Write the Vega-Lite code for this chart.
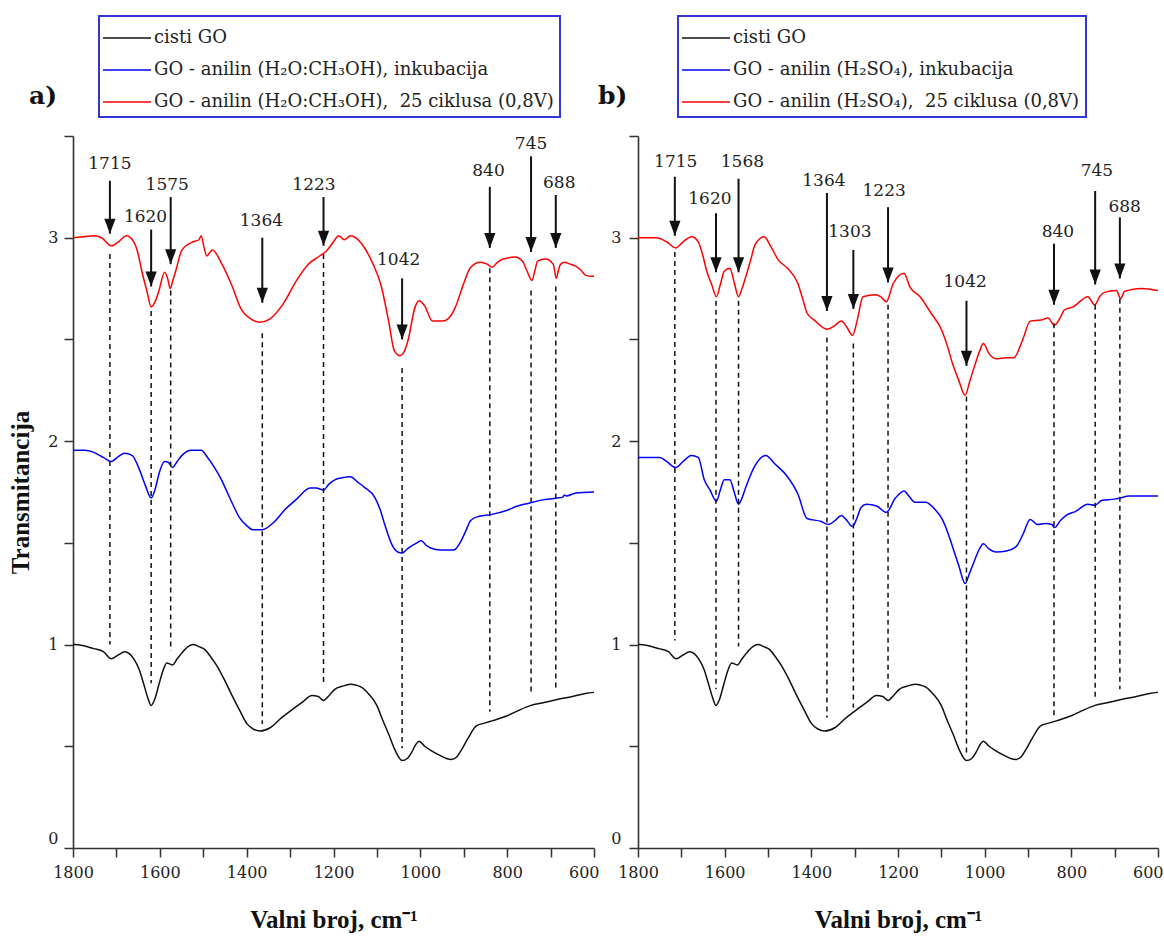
{
  "$schema": "https://vega.github.io/schema/vega-lite/v6.json",
  "background": "white",
  "padding": {"left": 8, "top": 15, "right": 3, "bottom": 2},
  "bounds": "flush",
  "spacing": 44,
  "datasets": {
    "black": [
      {"wn":1800,"v":1.00},{"wn":1796,"v":1.00},{"wn":1752,"v":0.98},{"wn":1730,"v":0.965},{"wn":1712,"v":0.93},{"wn":1695,"v":0.95},{"wn":1681,"v":0.965},{"wn":1660,"v":0.93},{"wn":1648,"v":0.88},{"wn":1637,"v":0.805},{"wn":1628,"v":0.74},{"wn":1620,"v":0.70},{"wn":1612,"v":0.73},{"wn":1602,"v":0.805},{"wn":1593,"v":0.87},{"wn":1584,"v":0.91},{"wn":1571,"v":0.90},{"wn":1560,"v":0.93},{"wn":1549,"v":0.96},{"wn":1535,"v":0.99},{"wn":1523,"v":1.00},{"wn":1510,"v":0.99},{"wn":1496,"v":0.975},{"wn":1483,"v":0.94},{"wn":1470,"v":0.90},{"wn":1452,"v":0.83},{"wn":1435,"v":0.755},{"wn":1417,"v":0.68},{"wn":1399,"v":0.61},{"wn":1385,"v":0.585},{"wn":1369,"v":0.575},{"wn":1347,"v":0.59},{"wn":1320,"v":0.64},{"wn":1289,"v":0.69},{"wn":1270,"v":0.72},{"wn":1250,"v":0.75},{"wn":1235,"v":0.745},{"wn":1223,"v":0.725},{"wn":1210,"v":0.75},{"wn":1197,"v":0.78},{"wn":1180,"v":0.795},{"wn":1161,"v":0.805},{"wn":1147,"v":0.80},{"wn":1135,"v":0.79},{"wn":1118,"v":0.755},{"wn":1100,"v":0.70},{"wn":1087,"v":0.63},{"wn":1073,"v":0.56},{"wn":1058,"v":0.48},{"wn":1042,"v":0.43},{"wn":1030,"v":0.44},{"wn":1020,"v":0.47},{"wn":1010,"v":0.51},{"wn":1003,"v":0.525},{"wn":990,"v":0.50},{"wn":976,"v":0.48},{"wn":955,"v":0.455},{"wn":940,"v":0.44},{"wn":928,"v":0.435},{"wn":915,"v":0.45},{"wn":906,"v":0.48},{"wn":890,"v":0.54},{"wn":871,"v":0.60},{"wn":850,"v":0.615},{"wn":835,"v":0.625},{"wn":800,"v":0.65},{"wn":775,"v":0.675},{"wn":747,"v":0.70},{"wn":715,"v":0.715},{"wn":685,"v":0.73},{"wn":650,"v":0.745},{"wn":620,"v":0.76},{"wn":600,"v":0.765}
    ],
    "leftBlue": [
      {"wn":1800,"v":1.955},{"wn":1774,"v":1.955},{"wn":1752,"v":1.945},{"wn":1730,"v":1.92},{"wn":1712,"v":1.90},{"wn":1695,"v":1.925},{"wn":1681,"v":1.94},{"wn":1664,"v":1.93},{"wn":1646,"v":1.855},{"wn":1633,"v":1.78},{"wn":1620,"v":1.72},{"wn":1610,"v":1.77},{"wn":1602,"v":1.84},{"wn":1589,"v":1.90},{"wn":1580,"v":1.895},{"wn":1571,"v":1.87},{"wn":1560,"v":1.90},{"wn":1549,"v":1.93},{"wn":1527,"v":1.955},{"wn":1505,"v":1.955},{"wn":1490,"v":1.92},{"wn":1474,"v":1.87},{"wn":1458,"v":1.81},{"wn":1443,"v":1.74},{"wn":1430,"v":1.68},{"wn":1417,"v":1.625},{"wn":1400,"v":1.585},{"wn":1386,"v":1.565},{"wn":1364,"v":1.565},{"wn":1338,"v":1.60},{"wn":1311,"v":1.665},{"wn":1285,"v":1.715},{"wn":1254,"v":1.77},{"wn":1240,"v":1.77},{"wn":1223,"v":1.76},{"wn":1210,"v":1.79},{"wn":1197,"v":1.81},{"wn":1180,"v":1.82},{"wn":1161,"v":1.825},{"wn":1145,"v":1.80},{"wn":1130,"v":1.775},{"wn":1104,"v":1.72},{"wn":1092,"v":1.66},{"wn":1082,"v":1.59},{"wn":1064,"v":1.485},{"wn":1052,"v":1.455},{"wn":1042,"v":1.45},{"wn":1030,"v":1.47},{"wn":1020,"v":1.485},{"wn":1008,"v":1.50},{"wn":998,"v":1.51},{"wn":985,"v":1.485},{"wn":976,"v":1.475},{"wn":954,"v":1.465},{"wn":923,"v":1.465},{"wn":906,"v":1.51},{"wn":895,"v":1.56},{"wn":884,"v":1.61},{"wn":866,"v":1.63},{"wn":835,"v":1.64},{"wn":800,"v":1.66},{"wn":778,"v":1.68},{"wn":750,"v":1.695},{"wn":721,"v":1.71},{"wn":685,"v":1.72},{"wn":672,"v":1.725},{"wn":668,"v":1.735},{"wn":664,"v":1.73},{"wn":642,"v":1.745},{"wn":600,"v":1.75}
    ],
    "leftRed": [
      {"wn":1800,"v":3.00},{"wn":1775,"v":3.005},{"wn":1752,"v":3.01},{"wn":1734,"v":3.00},{"wn":1712,"v":2.96},{"wn":1695,"v":2.98},{"wn":1677,"v":3.01},{"wn":1660,"v":2.98},{"wn":1650,"v":2.92},{"wn":1642,"v":2.84},{"wn":1630,"v":2.74},{"wn":1620,"v":2.66},{"wn":1610,"v":2.69},{"wn":1602,"v":2.74},{"wn":1589,"v":2.83},{"wn":1582,"v":2.80},{"wn":1576,"v":2.75},{"wn":1570,"v":2.79},{"wn":1563,"v":2.84},{"wn":1549,"v":2.94},{"wn":1523,"v":2.98},{"wn":1510,"v":2.99},{"wn":1505,"v":3.01},{"wn":1498,"v":2.95},{"wn":1492,"v":2.91},{"wn":1479,"v":2.94},{"wn":1457,"v":2.87},{"wn":1435,"v":2.77},{"wn":1413,"v":2.65},{"wn":1390,"v":2.60},{"wn":1369,"v":2.585},{"wn":1347,"v":2.60},{"wn":1316,"v":2.675},{"wn":1285,"v":2.79},{"wn":1258,"v":2.87},{"wn":1232,"v":2.91},{"wn":1214,"v":2.94},{"wn":1200,"v":2.98},{"wn":1188,"v":3.01},{"wn":1175,"v":2.99},{"wn":1161,"v":3.01},{"wn":1135,"v":2.97},{"wn":1109,"v":2.87},{"wn":1091,"v":2.77},{"wn":1073,"v":2.59},{"wn":1060,"v":2.445},{"wn":1047,"v":2.42},{"wn":1040,"v":2.43},{"wn":1029,"v":2.49},{"wn":1012,"v":2.66},{"wn":1003,"v":2.69},{"wn":990,"v":2.665},{"wn":972,"v":2.59},{"wn":950,"v":2.59},{"wn":937,"v":2.60},{"wn":919,"v":2.66},{"wn":901,"v":2.77},{"wn":884,"v":2.855},{"wn":862,"v":2.88},{"wn":846,"v":2.87},{"wn":835,"v":2.855},{"wn":822,"v":2.88},{"wn":809,"v":2.895},{"wn":782,"v":2.905},{"wn":765,"v":2.885},{"wn":755,"v":2.84},{"wn":743,"v":2.79},{"wn":736,"v":2.84},{"wn":730,"v":2.885},{"wn":712,"v":2.895},{"wn":694,"v":2.87},{"wn":687,"v":2.80},{"wn":682,"v":2.84},{"wn":677,"v":2.87},{"wn":668,"v":2.88},{"wn":655,"v":2.87},{"wn":642,"v":2.86},{"wn":630,"v":2.84},{"wn":619,"v":2.815},{"wn":605,"v":2.81},{"wn":600,"v":2.81}
    ],
    "rightBlue": [
      {"wn":1800,"v":1.92},{"wn":1750,"v":1.92},{"wn":1734,"v":1.90},{"wn":1713,"v":1.87},{"wn":1696,"v":1.90},{"wn":1677,"v":1.93},{"wn":1661,"v":1.92},{"wn":1647,"v":1.81},{"wn":1634,"v":1.76},{"wn":1619,"v":1.705},{"wn":1610,"v":1.76},{"wn":1601,"v":1.81},{"wn":1588,"v":1.81},{"wn":1578,"v":1.75},{"wn":1568,"v":1.69},{"wn":1560,"v":1.72},{"wn":1551,"v":1.775},{"wn":1530,"v":1.88},{"wn":1505,"v":1.93},{"wn":1485,"v":1.89},{"wn":1455,"v":1.825},{"wn":1431,"v":1.74},{"wn":1410,"v":1.62},{"wn":1377,"v":1.605},{"wn":1361,"v":1.59},{"wn":1345,"v":1.61},{"wn":1331,"v":1.635},{"wn":1318,"v":1.61},{"wn":1305,"v":1.58},{"wn":1295,"v":1.62},{"wn":1285,"v":1.675},{"wn":1273,"v":1.69},{"wn":1248,"v":1.68},{"wn":1227,"v":1.65},{"wn":1206,"v":1.72},{"wn":1186,"v":1.755},{"wn":1175,"v":1.73},{"wn":1161,"v":1.70},{"wn":1136,"v":1.70},{"wn":1115,"v":1.665},{"wn":1099,"v":1.62},{"wn":1085,"v":1.55},{"wn":1074,"v":1.48},{"wn":1060,"v":1.39},{"wn":1045,"v":1.30},{"wn":1035,"v":1.35},{"wn":1024,"v":1.41},{"wn":1012,"v":1.47},{"wn":1003,"v":1.495},{"wn":990,"v":1.47},{"wn":974,"v":1.455},{"wn":950,"v":1.46},{"wn":928,"v":1.48},{"wn":912,"v":1.54},{"wn":895,"v":1.615},{"wn":878,"v":1.59},{"wn":860,"v":1.595},{"wn":845,"v":1.59},{"wn":839,"v":1.575},{"wn":825,"v":1.61},{"wn":812,"v":1.635},{"wn":790,"v":1.655},{"wn":762,"v":1.69},{"wn":746,"v":1.685},{"wn":729,"v":1.71},{"wn":700,"v":1.715},{"wn":688,"v":1.72},{"wn":667,"v":1.73},{"wn":640,"v":1.73},{"wn":600,"v":1.73}
    ],
    "rightRed": [
      {"wn":1800,"v":3.00},{"wn":1758,"v":3.00},{"wn":1734,"v":2.98},{"wn":1713,"v":2.95},{"wn":1696,"v":2.98},{"wn":1676,"v":3.005},{"wn":1661,"v":2.98},{"wn":1650,"v":2.91},{"wn":1642,"v":2.84},{"wn":1630,"v":2.77},{"wn":1619,"v":2.71},{"wn":1610,"v":2.77},{"wn":1601,"v":2.835},{"wn":1588,"v":2.85},{"wn":1578,"v":2.78},{"wn":1568,"v":2.71},{"wn":1560,"v":2.75},{"wn":1551,"v":2.81},{"wn":1540,"v":2.89},{"wn":1530,"v":2.965},{"wn":1509,"v":3.005},{"wn":1493,"v":2.955},{"wn":1476,"v":2.89},{"wn":1455,"v":2.85},{"wn":1431,"v":2.775},{"wn":1420,"v":2.70},{"wn":1410,"v":2.63},{"wn":1393,"v":2.595},{"wn":1364,"v":2.55},{"wn":1348,"v":2.565},{"wn":1331,"v":2.59},{"wn":1318,"v":2.56},{"wn":1305,"v":2.52},{"wn":1294,"v":2.595},{"wn":1281,"v":2.71},{"wn":1252,"v":2.72},{"wn":1240,"v":2.71},{"wn":1227,"v":2.685},{"wn":1211,"v":2.775},{"wn":1186,"v":2.825},{"wn":1173,"v":2.76},{"wn":1149,"v":2.71},{"wn":1124,"v":2.63},{"wn":1099,"v":2.545},{"wn":1085,"v":2.46},{"wn":1074,"v":2.38},{"wn":1060,"v":2.30},{"wn":1045,"v":2.225},{"wn":1035,"v":2.29},{"wn":1024,"v":2.365},{"wn":1012,"v":2.44},{"wn":1003,"v":2.48},{"wn":990,"v":2.43},{"wn":974,"v":2.405},{"wn":950,"v":2.41},{"wn":933,"v":2.41},{"wn":912,"v":2.50},{"wn":895,"v":2.59},{"wn":870,"v":2.595},{"wn":854,"v":2.605},{"wn":839,"v":2.57},{"wn":825,"v":2.61},{"wn":816,"v":2.645},{"wn":796,"v":2.66},{"wn":762,"v":2.71},{"wn":746,"v":2.67},{"wn":735,"v":2.71},{"wn":725,"v":2.73},{"wn":696,"v":2.74},{"wn":686,"v":2.70},{"wn":678,"v":2.735},{"wn":671,"v":2.74},{"wn":638,"v":2.75},{"wn":600,"v":2.74}
    ],
    "leftAnn": [
      {"wn":1715,"tx":1715,"ty":3.36,"at":3.28,"tip":3.02,"dt":2.92,"db":1.00},
      {"wn":1620,"tx":1633,"ty":3.10,"at":3.04,"tip":2.76,"dt":2.64,"db":0.81},
      {"wn":1575,"tx":1583,"ty":3.26,"at":3.20,"tip":2.87,"dt":2.74,"db":0.97},
      {"wn":1364,"tx":1366,"ty":3.08,"at":3.00,"tip":2.68,"dt":2.53,"db":0.61},
      {"wn":1223,"tx":1245,"ty":3.26,"at":3.20,"tip":2.96,"dt":2.92,"db":0.81},
      {"wn":1042,"tx":1050,"ty":2.89,"at":2.80,"tip":2.50,"dt":2.36,"db":0.49},
      {"wn":840,"tx":843,"ty":3.33,"at":3.25,"tip":2.95,"dt":2.85,"db":0.67},
      {"wn":745,"tx":745,"ty":3.46,"at":3.40,"tip":2.93,"dt":2.74,"db":0.75},
      {"wn":688,"tx":680,"ty":3.27,"at":3.21,"tip":2.95,"dt":2.76,"db":0.77}
    ],
    "rightAnn": [
      {"wn":1715,"tx":1713,"ty":3.37,"at":3.30,"tip":3.01,"dt":2.93,"db":1.02},
      {"wn":1620,"tx":1634,"ty":3.19,"at":3.12,"tip":2.83,"dt":2.69,"db":0.78},
      {"wn":1568,"tx":1559,"ty":3.37,"at":3.29,"tip":2.83,"dt":2.69,"db":0.99},
      {"wn":1364,"tx":1371,"ty":3.28,"at":3.22,"tip":2.64,"dt":2.51,"db":0.64},
      {"wn":1303,"tx":1311,"ty":3.03,"at":2.94,"tip":2.65,"dt":2.48,"db":0.69},
      {"wn":1223,"tx":1232,"ty":3.23,"at":3.15,"tip":2.78,"dt":2.67,"db":0.78},
      {"wn":1042,"tx":1045,"ty":2.78,"at":2.69,"tip":2.37,"dt":2.22,"db":0.46},
      {"wn":840,"tx":831,"ty":3.03,"at":2.97,"tip":2.67,"dt":2.58,"db":0.65},
      {"wn":745,"tx":741,"ty":3.33,"at":3.23,"tip":2.77,"dt":2.67,"db":0.74},
      {"wn":688,"tx":677,"ty":3.15,"at":3.10,"tip":2.80,"dt":2.70,"db":0.78}
    ]
  },
  "hconcat": [
    {
      "width": 521,
      "height": 712,
      "title": {"text": "a)", "anchor": "start", "frame": "group", "dx": -44, "offset": -94, "font": "DejaVu Serif", "fontSize": 25, "fontWeight": "bold", "color": "#111"},
      "layer": [
        {
          "data": {"name": "black"},
          "mark": {"type": "line", "strokeWidth": 1.5, "interpolate": "monotone"},
          "encoding": {
            "x": {"field": "wn", "type": "quantitative", "title": "Valni broj, cm⁻¹", "scale": {"domain": [600, 1800], "reverse": true, "nice": false, "zero": false},
              "axis": {"values": [1800,1700,1600,1500,1400,1300,1200,1100,1000,900,800,700,600], "format": "d", "labelExpr": "datum.value % 200 === 0 ? datum.label : ''", "tickSize": 9, "encode": {"ticks": {"update": {"y2": {"signal": "datum.value % 200 === 0 ? 9 : 5"}}}}, "labelAlign": {"condition": {"test": "datum.value === 600", "value": "right"}, "value": "center"}, "labelOffset": {"condition": {"test": "datum.value === 600", "value": 5}, "value": 0}, "labelFlush": false, "labelOverlap": false, "labelPadding": 7, "titlePadding": 27}},
            "y": {"field": "v", "type": "quantitative", "title": "Transmitancija", "scale": {"domain": [0, 3.5], "nice": false, "zero": false},
              "axis": {"values": [0,0.5,1,1.5,2,2.5,3,3.5], "labelExpr": "datum.value % 1 === 0 ? '' + datum.value : ''", "tickSize": 9, "encode": {"ticks": {"update": {"x2": {"signal": "datum.value % 1 === 0 ? -9 : -5"}}}}, "labelOffset": {"condition": {"test": "datum.value === 0", "value": -10}, "value": 0}, "labelFlush": false, "labelOverlap": false, "labelPadding": 6, "titlePadding": 14}},
            "color": {"datum": "cisti GO", "type": "nominal",
              "scale": {"domain": ["cisti GO", "GO - anilin (H₂O:CH₃OH), inkubacija", "GO - anilin (H₂O:CH₃OH), \u00a025 ciklusa (0,8V)"], "range": ["#111111", "#0000ff", "#ff0000"]},
              "legend": {"legendX": 26, "legendY": -120}}
          }
        },
        {
          "data": {"name": "leftBlue"},
          "mark": {"type": "line", "strokeWidth": 1.5, "interpolate": "monotone"},
          "encoding": {
            "x": {"field": "wn", "type": "quantitative", "title": "Valni broj, cm⁻¹", "scale": {"domain": [600, 1800], "reverse": true, "nice": false, "zero": false}},
            "y": {"field": "v", "type": "quantitative", "title": "Transmitancija", "scale": {"domain": [0, 3.5], "nice": false, "zero": false}},
            "color": {"datum": "GO - anilin (H₂O:CH₃OH), inkubacija", "type": "nominal"}
          }
        },
        {
          "data": {"name": "leftRed"},
          "mark": {"type": "line", "strokeWidth": 1.5, "interpolate": "monotone"},
          "encoding": {
            "x": {"field": "wn", "type": "quantitative", "title": "Valni broj, cm⁻¹", "scale": {"domain": [600, 1800], "reverse": true, "nice": false, "zero": false}},
            "y": {"field": "v", "type": "quantitative", "title": "Transmitancija", "scale": {"domain": [0, 3.5], "nice": false, "zero": false}},
            "color": {"datum": "GO - anilin (H₂O:CH₃OH), \u00a025 ciklusa (0,8V)", "type": "nominal"}
          }
        },
        {
          "data": {"name": "leftAnn"},
          "mark": {"type": "rule", "strokeDash": [5, 4], "strokeWidth": 1.5, "color": "#111"},
          "encoding": {
            "x": {"field": "wn", "type": "quantitative", "title": "Valni broj, cm⁻¹", "scale": {"domain": [600, 1800], "reverse": true, "nice": false, "zero": false}},
            "y": {"field": "dt", "type": "quantitative", "title": "Transmitancija", "scale": {"domain": [0, 3.5], "nice": false, "zero": false}},
            "y2": {"field": "db"}
          }
        },
        {
          "data": {"name": "leftAnn"},
          "mark": {"type": "rule", "strokeWidth": 2, "color": "#111"},
          "encoding": {
            "x": {"field": "wn", "type": "quantitative", "title": "Valni broj, cm⁻¹", "scale": {"domain": [600, 1800], "reverse": true, "nice": false, "zero": false}},
            "y": {"field": "at", "type": "quantitative", "title": "Transmitancija", "scale": {"domain": [0, 3.5], "nice": false, "zero": false}},
            "y2": {"field": "tip"}
          }
        },
        {
          "data": {"name": "leftAnn"},
          "mark": {"type": "point", "shape": "M-0.75,-2L0.75,-2L0,0Z", "filled": true, "size": 225, "color": "#111", "opacity": 1},
          "encoding": {
            "x": {"field": "wn", "type": "quantitative", "title": "Valni broj, cm⁻¹", "scale": {"domain": [600, 1800], "reverse": true, "nice": false, "zero": false}},
            "y": {"field": "tip", "type": "quantitative", "title": "Transmitancija", "scale": {"domain": [0, 3.5], "nice": false, "zero": false}}
          }
        },
        {
          "data": {"name": "leftAnn"},
          "mark": {"type": "text", "font": "DejaVu Serif", "fontSize": 17, "color": "#222", "baseline": "middle"},
          "encoding": {
            "x": {"field": "tx", "type": "quantitative", "title": "Valni broj, cm⁻¹", "scale": {"domain": [600, 1800], "reverse": true, "nice": false, "zero": false}},
            "y": {"field": "ty", "type": "quantitative", "title": "Transmitancija", "scale": {"domain": [0, 3.5], "nice": false, "zero": false}},
            "text": {"field": "wn", "type": "quantitative", "format": "d"}
          }
        }
      ]
    },
    {
      "width": 520,
      "height": 712,
      "title": {"text": "b)", "anchor": "start", "frame": "group", "dx": -40, "offset": -94, "font": "DejaVu Serif", "fontSize": 25, "fontWeight": "bold", "color": "#111"},
      "layer": [
        {
          "data": {"name": "black"},
          "mark": {"type": "line", "strokeWidth": 1.5, "interpolate": "monotone"},
          "encoding": {
            "x": {"field": "wn", "type": "quantitative", "title": "Valni broj, cm⁻¹", "scale": {"domain": [600, 1800], "reverse": true, "nice": false, "zero": false},
              "axis": {"values": [1800,1700,1600,1500,1400,1300,1200,1100,1000,900,800,700,600], "format": "d", "labelExpr": "datum.value % 200 === 0 ? datum.label : ''", "tickSize": 9, "encode": {"ticks": {"update": {"y2": {"signal": "datum.value % 200 === 0 ? 9 : 5"}}}}, "labelAlign": {"condition": {"test": "datum.value === 600", "value": "right"}, "value": "center"}, "labelOffset": {"condition": {"test": "datum.value === 600", "value": 5}, "value": 0}, "labelFlush": false, "labelOverlap": false, "labelPadding": 7, "titlePadding": 27}},
            "y": {"field": "v", "type": "quantitative", "title": null, "scale": {"domain": [0, 3.5], "nice": false, "zero": false},
              "axis": {"values": [0,0.5,1,1.5,2,2.5,3,3.5], "labelExpr": "datum.value % 1 === 0 ? '' + datum.value : ''", "tickSize": 9, "encode": {"ticks": {"update": {"x2": {"signal": "datum.value % 1 === 0 ? -9 : -5"}}}}, "labelOffset": {"condition": {"test": "datum.value === 0", "value": -10}, "value": 0}, "labelFlush": false, "labelOverlap": false, "labelPadding": 8}},
            "color": {"datum": "cisti GO", "type": "nominal",
              "scale": {"domain": ["cisti GO", "GO - anilin (H₂SO₄), inkubacija", "GO - anilin (H₂SO₄), \u00a025 ciklusa (0,8V)"], "range": ["#111111", "#0000ff", "#ff0000"]},
              "legend": {"legendX": 40, "legendY": -120}}
          }
        },
        {
          "data": {"name": "rightBlue"},
          "mark": {"type": "line", "strokeWidth": 1.5, "interpolate": "monotone"},
          "encoding": {
            "x": {"field": "wn", "type": "quantitative", "title": "Valni broj, cm⁻¹", "scale": {"domain": [600, 1800], "reverse": true, "nice": false, "zero": false}},
            "y": {"field": "v", "type": "quantitative", "title": null, "scale": {"domain": [0, 3.5], "nice": false, "zero": false}},
            "color": {"datum": "GO - anilin (H₂SO₄), inkubacija", "type": "nominal"}
          }
        },
        {
          "data": {"name": "rightRed"},
          "mark": {"type": "line", "strokeWidth": 1.5, "interpolate": "monotone"},
          "encoding": {
            "x": {"field": "wn", "type": "quantitative", "title": "Valni broj, cm⁻¹", "scale": {"domain": [600, 1800], "reverse": true, "nice": false, "zero": false}},
            "y": {"field": "v", "type": "quantitative", "title": null, "scale": {"domain": [0, 3.5], "nice": false, "zero": false}},
            "color": {"datum": "GO - anilin (H₂SO₄), \u00a025 ciklusa (0,8V)", "type": "nominal"}
          }
        },
        {
          "data": {"name": "rightAnn"},
          "mark": {"type": "rule", "strokeDash": [5, 4], "strokeWidth": 1.5, "color": "#111"},
          "encoding": {
            "x": {"field": "wn", "type": "quantitative", "title": "Valni broj, cm⁻¹", "scale": {"domain": [600, 1800], "reverse": true, "nice": false, "zero": false}},
            "y": {"field": "dt", "type": "quantitative", "title": null, "scale": {"domain": [0, 3.5], "nice": false, "zero": false}},
            "y2": {"field": "db"}
          }
        },
        {
          "data": {"name": "rightAnn"},
          "mark": {"type": "rule", "strokeWidth": 2, "color": "#111"},
          "encoding": {
            "x": {"field": "wn", "type": "quantitative", "title": "Valni broj, cm⁻¹", "scale": {"domain": [600, 1800], "reverse": true, "nice": false, "zero": false}},
            "y": {"field": "at", "type": "quantitative", "title": null, "scale": {"domain": [0, 3.5], "nice": false, "zero": false}},
            "y2": {"field": "tip"}
          }
        },
        {
          "data": {"name": "rightAnn"},
          "mark": {"type": "point", "shape": "M-0.75,-2L0.75,-2L0,0Z", "filled": true, "size": 225, "color": "#111", "opacity": 1},
          "encoding": {
            "x": {"field": "wn", "type": "quantitative", "title": "Valni broj, cm⁻¹", "scale": {"domain": [600, 1800], "reverse": true, "nice": false, "zero": false}},
            "y": {"field": "tip", "type": "quantitative", "title": null, "scale": {"domain": [0, 3.5], "nice": false, "zero": false}}
          }
        },
        {
          "data": {"name": "rightAnn"},
          "mark": {"type": "text", "font": "DejaVu Serif", "fontSize": 17, "color": "#222", "baseline": "middle"},
          "encoding": {
            "x": {"field": "tx", "type": "quantitative", "title": "Valni broj, cm⁻¹", "scale": {"domain": [600, 1800], "reverse": true, "nice": false, "zero": false}},
            "y": {"field": "ty", "type": "quantitative", "title": null, "scale": {"domain": [0, 3.5], "nice": false, "zero": false}},
            "text": {"field": "wn", "type": "quantitative", "format": "d"}
          }
        }
      ]
    }
  ],
  "resolve": {
    "scale": {"color": "independent", "x": "independent", "y": "independent"},
    "legend": {"color": "independent"},
    "axis": {"x": "independent", "y": "independent"}
  },
  "config": {
    "view": {"stroke": null},
    "axis": {
      "grid": false,
      "domainColor": "#333333",
      "domainWidth": 1.6,
      "tickColor": "#333333",
      "tickWidth": 1.5,
      "labelFont": "DejaVu Serif",
      "labelFontSize": 16,
      "labelColor": "#222222",
      "titleFont": "Liberation Serif",
      "titleFontSize": 25,
      "titleFontWeight": "bold",
      "titleColor": "#111111"
    },
    "legend": {
      "orient": "none",
      "title": null,
      "strokeColor": "#3434d9",
      "strokeWidth": 2,
      "padding": 6,
      "symbolType": "M-1.2,0H2.0",
      "symbolSize": 900,
      "symbolStrokeWidth": 1.5,
      "labelFont": "DejaVu Serif",
      "labelFontSize": 18,
      "labelColor": "#222222",
      "labelLimit": 800,
      "labelOffset": 17,
      "rowPadding": 7
    }
  }
}
